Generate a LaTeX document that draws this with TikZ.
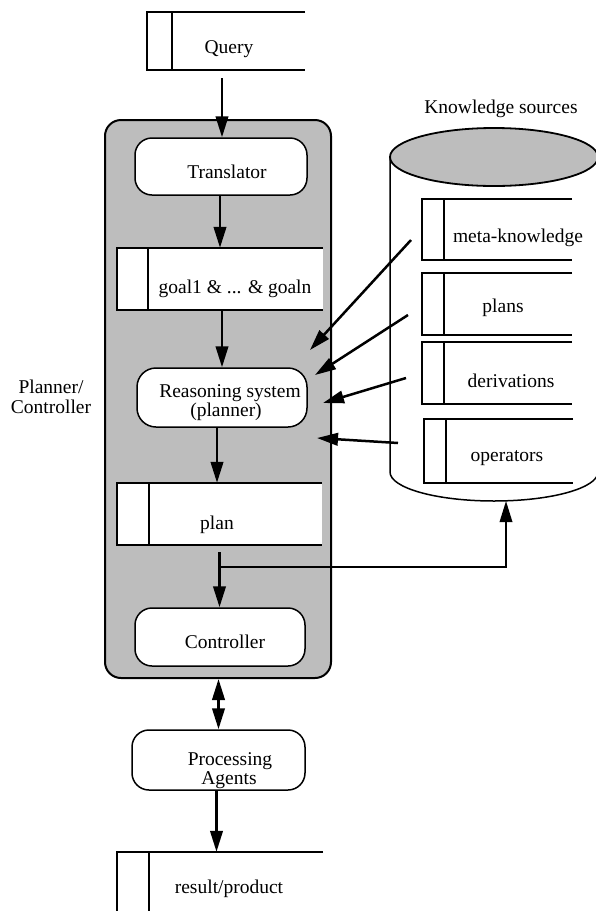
\documentclass[tikz,border=0pt]{standalone}
\usepackage{fontspec}
\setmainfont{Liberation Serif}
\usetikzlibrary{arrows.meta}
\begin{document}
\begin{tikzpicture}[x=1pt,y=-1pt,
  shaded/.style={fill=black!26},
  rbox/.style={draw, line width=1.5pt, rounded corners=17pt, fill=white, inner sep=0pt},
  obox/.style={fill=white, inner sep=0pt},
  frame/.style={line width=1.5pt},
  lbl/.style={font=\fontsize{19.5}{19.5}\selectfont, inner sep=0pt, anchor=base},
  arr/.style={line width=2.5pt, -{Triangle[length=21pt,width=12.5pt]}},
  thinarr/.style={line width=1.8pt, -{Triangle[length=21pt,width=12.5pt]}}
]
\clip (0,0) rectangle (596,911);

% ---------- Query (open data store) ----------
\node[obox, minimum width=158pt, minimum height=58pt] (query) at (226,41) {};
\draw[frame] (query.north east) -- (query.north west) -- (query.south west) -- (query.south east);
\draw[frame] ([xshift=25pt]query.north west) -- ([xshift=25pt]query.south west);
\node[lbl] (tq) at (229,53) {Query};

% ---------- Planner / Controller container ----------
\node[draw, line width=2pt, shaded, rounded corners=16pt, minimum width=226pt, minimum height=558pt, inner sep=0pt] (planner) at (218,399) {};
\node[lbl] (tpl1) at (51,393) {Planner/};
\node[lbl] (tpl2) at (51,413) {Controller};

% Translator
\node[rbox, minimum width=172pt, minimum height=57pt] (tr) at (221,166.5) {};
\node[lbl] (ttr) at (227,178) {Translator};

% goal box
\node[obox, minimum width=206pt, minimum height=62pt] (goal) at (220,279) {};
\draw[frame] (goal.north east) -- (goal.north west) -- (goal.south west) -- (goal.south east);
\draw[frame] ([xshift=31pt]goal.north west) -- ([xshift=31pt]goal.south west);
\node[lbl] (tgoal) at (235,293) {goal1 \& ... \& goaln};

% Reasoning system
\node[rbox, rounded corners=19pt, minimum width=170pt, minimum height=59pt] (rs) at (222,397.5) {};
\node[lbl] (trs1) at (230,397) {Reasoning system};
\node[lbl] (trs2) at (226,416) {(planner)};

% plan box
\node[obox, minimum width=205pt, minimum height=62pt] (plan) at (219.5,514) {};
\draw[frame] (plan.north east) -- (plan.north west) -- (plan.south west) -- (plan.south east);
\draw[frame] ([xshift=32pt]plan.north west) -- ([xshift=32pt]plan.south west);
\node[lbl] (tplan) at (217,529) {plan};

% Controller
\node[rbox, minimum width=170pt, minimum height=58pt] (ctl) at (220,637) {};
\node[lbl] (tctl) at (225,648) {Controller};

% ---------- Processing Agents ----------
\node[rbox, minimum width=173pt, minimum height=60pt] (pa) at (218.5,760) {};
\node[lbl] (tpa1) at (230,765) {Processing};
\node[lbl] (tpa2) at (229,784) {Agents};

% ---------- result/product ----------
\node[obox, minimum width=206pt, minimum height=108pt] (res) at (220,906) {};
\draw[frame] (res.north east) -- (res.north west) -- (res.south west) -- (res.south east);
\draw[frame] ([xshift=32pt]res.north west) -- ([xshift=32pt]res.south west);
\node[lbl] (tres) at (229,893) {result/product};

% ---------- Knowledge sources cylinder ----------
\node[lbl] (tks) at (501,113) {Knowledge sources};
\draw[line width=1.5pt] (390,157) -- (390,472)
   arc[start angle=180, end angle=360, x radius=104pt, y radius=29pt] -- (598,157);
\draw[line width=1.8pt, shaded] (494,157) ellipse [x radius=104pt, y radius=29pt];
\coordinate (cylb) at (506,501);

\node[obox, minimum width=150pt, minimum height=61pt] (meta) at (497,229.5) {};
\draw[frame] (meta.north east) -- (meta.north west) -- (meta.south west) -- (meta.south east);
\draw[frame] ([xshift=22pt]meta.north west) -- ([xshift=22pt]meta.south west);
\node[lbl] (tmeta) at (518,242) {meta-knowledge};

\node[obox, minimum width=150pt, minimum height=62pt] (plans) at (497,304) {};
\draw[frame] (plans.north east) -- (plans.north west) -- (plans.south west) -- (plans.south east);
\draw[frame] ([xshift=22pt]plans.north west) -- ([xshift=22pt]plans.south west);
\node[lbl] (tplans) at (503,312) {plans};

\node[obox, minimum width=150pt, minimum height=62pt] (deriv) at (497,373) {};
\draw[frame] (deriv.north east) -- (deriv.north west) -- (deriv.south west) -- (deriv.south east);
\draw[frame] ([xshift=22pt]deriv.north west) -- ([xshift=22pt]deriv.south west);
\node[lbl] (tderiv) at (511,387) {derivations};

\node[obox, minimum width=149pt, minimum height=64pt] (oper) at (498.5,451) {};
\draw[frame] (oper.north east) -- (oper.north west) -- (oper.south west) -- (oper.south east);
\draw[frame] ([xshift=22pt]oper.north west) -- ([xshift=22pt]oper.south west);
\node[lbl] (toper) at (507,461) {operators};

% ---------- connectors ----------
\draw[arr] ([xshift=-4pt,yshift=-8pt]query.south) -- ([xshift=1pt]tr.north);
\draw[arr] ([xshift=-1pt]tr.south) -- ([xshift=-1pt]tr.south |- goal.north);
\draw[arr] (goal.south -| rs.north) -- (rs.north);
\draw[arr] ([xshift=-5pt]rs.south) -- ([xshift=-5pt]rs.south |- plan.north);
\draw[arr] ([yshift=-7pt]plan.south) -- (plan.south |- ctl.north);
\coordinate (br) at (219.5,567);
\draw[thinarr] (br) -| (cylb);
\draw[line width=2.5pt, {Triangle[length=21pt,width=12.5pt]}-{Triangle[length=21pt,width=12.5pt]}] (planner.south -| pa.north) -- (pa.north);
\draw[arr] ([xshift=-2pt]pa.south) -- ([xshift=-2pt]pa.south |- res.north);

% knowledge arrows into the planner
\coordinate (k1s) at (411,240); \coordinate (k1e) at (310,350);
\coordinate (k2s) at (408,315); \coordinate (k2e) at (315,375);
\coordinate (k3s) at (406,378); \coordinate (k3e) at (323,403);
\coordinate (k4s) at (398,443); \coordinate (k4e) at (317,438);
\draw[arr] (k1s) -- (k1e);
\draw[arr] (k2s) -- (k2e);
\draw[arr] (k3s) -- (k3e);
\draw[arr] (k4s) -- (k4e);
\end{tikzpicture}
\end{document}
